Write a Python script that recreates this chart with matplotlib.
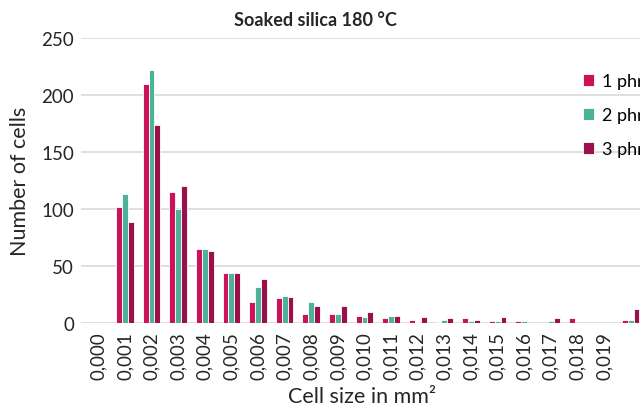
## --- SOAKED SILICA CELL SIZE DISTRIBUTION --- ##
import matplotlib
matplotlib.use('Agg')
import matplotlib.pyplot as plt
import numpy as np

# -- DATA -- #
categories = ['0,000', '0,001', '0,002', '0,003', '0,004', '0,005', '0,006',
              '0,007', '0,008', '0,009', '0,010', '0,011', '0,012', '0,013',
              '0,014', '0,015', '0,016', '0,017', '0,018', '0,019', '']
phr1 = [0, 102, 210, 115, 65, 44, 18, 22, 8, 8, 6, 4, 3, 1, 4, 2, 2, 0, 4, 0, 3]
phr2 = [0, 113, 222, 100, 65, 44, 32, 24, 18, 8, 5, 6, 1, 3, 2, 2, 2, 2, 0, 0, 3]
phr3 = [0, 89, 174, 120, 63, 44, 39, 23, 15, 15, 10, 6, 5, 4, 3, 5, 0, 4, 0, 0, 12]
series_names = ['1 phr', '2 phr', '3 phr']
colors = ['#CC1259', '#4DB398', '#9B0F4B']

plt.rcParams['font.family'] = ['Lato', 'DejaVu Sans']

fig = plt.figure(figsize=(6.4, 4.06), dpi=100)
# plot area runs past the right edge (the chart is cropped there)
ax = fig.add_axes([81 / 640, 0.202, 563 / 640, 0.702])

x = np.arange(len(categories))
w = 0.22
for k, (vals, name, col) in enumerate(zip([phr1, phr2, phr3], series_names, colors)):
    ax.bar(x + (k - 1) * w, vals, width=w, color=col, edgecolor='white',
           linewidth=0.6, label=name, zorder=3)

ax.set_xlim(-0.65, len(categories) - 0.5)
ax.set_ylim(0, 250)
ax.set_yticks(range(0, 251, 50))
ax.set_xticks(x)
ax.set_xticklabels(categories, rotation=90, fontsize=13.5, color='#262626')
ax.tick_params(axis='y', labelsize=13.5, labelcolor='#262626', length=0, pad=5)
ax.tick_params(axis='x', length=0, pad=6)
ax.grid(axis='y', color='#D9D9D9', linewidth=1.2, zorder=0)
for s in ax.spines.values():
    s.set_visible(False)

ax.set_ylabel('Number of cells', fontsize=15.5, color='#262626', labelpad=8)
ax.set_xlabel('Cell size in mm²', fontsize=15.5, color='#262626', labelpad=5)
fig.text(315 / 640, 1 - 20 / 406, 'Soaked silica 180 °C', ha='center', va='center',
         fontsize=13, fontweight='bold', color='#262626')

ax.legend(loc='upper left', bbox_to_anchor=(576 / 640, 1 - 67 / 406),
          bbox_transform=fig.transFigure, frameon=False, fontsize=13,
          handlelength=0.6, handleheight=0.6, handletextpad=0.45,
          labelspacing=1.0, borderaxespad=0)

fig.savefig('out.png', dpi=100)
